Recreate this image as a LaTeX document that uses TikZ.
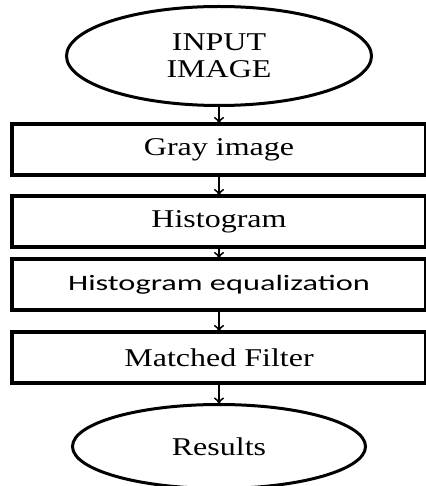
\documentclass[tikz,border=0pt]{standalone}
\usepackage{fontspec}
\setmainfont{Liberation Serif}
\newfontfamily\calibri{Carlito}
\usetikzlibrary{arrows.meta,positioning,shapes.geometric}
\newcommand{\wide}[2][1.25]{\scalebox{#1}[1]{#2}}

\begin{document}
\begin{tikzpicture}[node distance=10pt, every node/.style={font=\fontsize{12.8}{13.5}\selectfont},
  box/.style={draw, line width=1.7pt, minimum width=207pt, minimum height=25.5pt, inner sep=0pt, outer sep=0pt},
  oval/.style={draw, ellipse, line width=1.5pt, inner sep=0pt, outer sep=0pt, align=center},
  arr/.style={-{To[length=3.5pt,width=5pt]}, line width=0.75pt}]
\useasboundingbox (0,0) rectangle (213pt,-243pt);
\node[oval, minimum width=152.5pt, minimum height=49.5pt] (input) at (109.5pt,-28pt) {\wide{INPUT}\\\wide{IMAGE}};
\node[box, below=9.25pt of input] (gray) {\wide{Gray image}};
\node[box, below=10.5pt of gray] (hist) {\wide{Histogram}};
\node[box, below=6pt of hist, font=\calibri\fontsize{11}{13}\selectfont] (histeq) {\wide[1.47]{Histogram equalization}};
\node[box, below=11pt of histeq] (filter) {\wide{Matched Filter}};
\node[oval, minimum width=146.5pt, minimum height=42pt, below=10.75pt of filter] (results) {\wide{Results}};
\draw[arr] (input) -- (gray); \draw[arr] (gray) -- (hist); \draw[arr] (hist) -- (histeq);
\draw[arr] (histeq) -- (filter); \draw[arr] (filter) -- (results);
\end{tikzpicture}
\end{document}
